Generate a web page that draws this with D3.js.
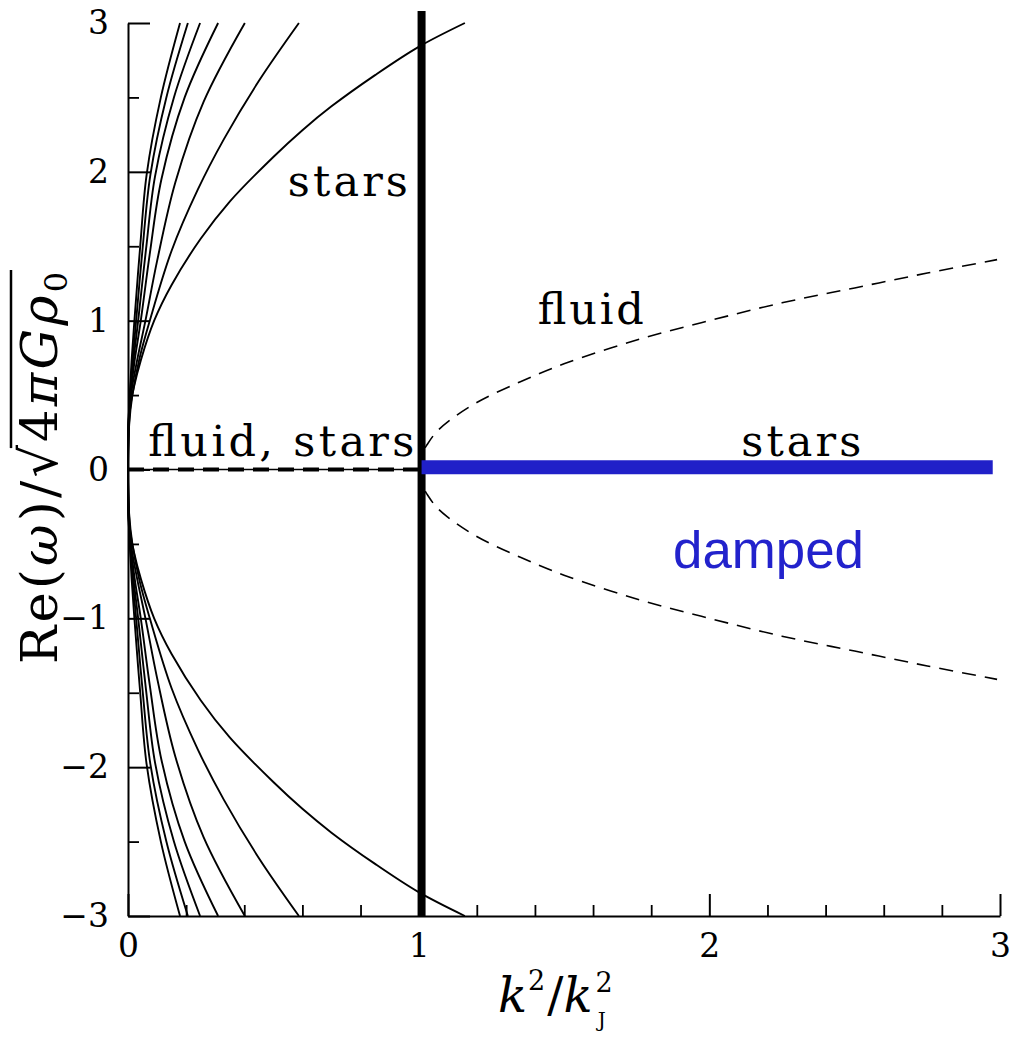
<!DOCTYPE html>
<html>
<head>
<meta charset="utf-8">
<script src="https://cdn.jsdelivr.net/npm/d3@7"></script>
<style>
  body { margin: 0; background: #fff; }
  svg { display: block; }
</style>
</head>
<body>
<svg id="chart" width="1016" height="1041"></svg>
<script>
// Tick values
const xMajorTicks = [0, 1, 2, 3];
const xMinorTicks = [0.2, 0.4, 0.6, 0.8, 1.2, 1.4, 1.6, 1.8, 2.2, 2.4, 2.6, 2.8];
const yMajorTicks = [-3, -2, -1, 0, 1, 2, 3];
const yMinorTicks = [-2.5, -1.5, -0.5, 0.5, 1.5, 2.5];

// Stellar branches, upper half: [k2/kJ2, Re(omega)/sqrt(4 pi G rho0)]
// (the lower half of the figure is the mirror image)
const starsBranch1 = [[0, 0], [0.002, 0.25], [0.008, 0.42], [0.02, 0.55], [0.045, 0.74], [0.09, 1.0], [0.15, 1.24], [0.25, 1.55], [0.35, 1.8], [0.5, 2.1], [0.6, 2.28], [0.7, 2.44], [0.85, 2.65], [1.0, 2.84], [1.159, 3.0]];
const starsBranch2 = [[0, 0], [0.004, 0.3], [0.015, 0.5], [0.04, 0.75], [0.075, 1.0], [0.15, 1.47], [0.24, 1.88], [0.33, 2.22], [0.45, 2.61], [0.588, 3.0]];
const starsBranch3 = [[0, 0], [0.002, 0.3], [0.01, 0.5], [0.03, 0.72], [0.06, 1.0], [0.1, 1.4], [0.163, 1.93], [0.26, 2.47], [0.402, 3.0]];
const starsBranch4 = [[0, 0], [0.002, 0.3], [0.009, 0.5], [0.022, 0.72], [0.044, 1.0], [0.075, 1.45], [0.115, 1.95], [0.195, 2.5], [0.31, 3.0]];
const starsBranch5 = [[0, 0], [0.002, 0.3], [0.008, 0.5], [0.018, 0.72], [0.035, 1.0], [0.062, 1.48], [0.093, 1.97], [0.158, 2.5], [0.248, 3.0]];
const starsBranch6 = [[0, 0], [0.0015, 0.3], [0.007, 0.5], [0.015, 0.72], [0.028, 1.0], [0.05, 1.48], [0.077, 1.98], [0.132, 2.5], [0.206, 3.0]];
const starsBranch7 = [[0, 0], [0.0015, 0.3], [0.006, 0.5], [0.012, 0.72], [0.022, 1.0], [0.042, 1.5], [0.064, 1.98], [0.113, 2.5], [0.179, 3.0]];
const starsBranches = [starsBranch1, starsBranch2, starsBranch3, starsBranch4, starsBranch5, starsBranch6, starsBranch7];

// Fluid branch beyond the Jeans wavenumber (upper half, dashed)
const fluidUpper = [[1.0, 0], [1.01, 0.1], [1.03, 0.17], [1.06, 0.25], [1.1, 0.32], [1.2, 0.45], [1.35, 0.59], [1.5, 0.71], [1.75, 0.87], [2.0, 1.0], [2.25, 1.12], [2.5, 1.22], [2.75, 1.32], [2.99, 1.41]];

// Zero-frequency segment (fluid and stars), Jeans line, damped stellar segment
const zeroSegment = [[0, 0], [1.0, 0]];
const jeansLine = [[1.01, -3.0], [1.01, 3.08]];
const dampedSegment = [[1.01, 0.015], [2.975, 0.015]];

// Text labels
const labels = [
  { x: 0.55, y: 1.84, text: "stars", len: 120 },
  { x: 1.41, y: 0.98, text: "fluid", len: 106 },
  { x: 0.07, y: 0.09, text: "fluid, stars", len: 266 },
  { x: 2.11, y: 0.09, text: "stars", len: 120 }
];

const svg = d3.select("#chart");
const serif = "'DejaVu Serif', serif";

const x = d3.scaleLinear().domain([0, 3]).range([128, 1000]);
const y = d3.scaleLinear().domain([-3, 3]).range([916, 23]);

const smooth = d3.line()
  .x(d => x(d[0]))
  .y(d => y(d[1]))
  .curve(d3.curveCatmullRom.alpha(0.5));

const straight = d3.line()
  .x(d => x(d[0]))
  .y(d => y(d[1]));

const plot = svg.append("g");

// Stellar branches (both signs)
starsBranches.forEach(b => {
  [1, -1].forEach(s => {
    plot.append("path")
      .attr("d", smooth(b.map(p => [p[0], s * p[1]])))
      .attr("fill", "none")
      .attr("stroke", "#000")
      .attr("stroke-width", 1.9);
  });
});

// Fluid branch (dashed), both signs
[1, -1].forEach(s => {
  plot.append("path")
    .attr("d", smooth(fluidUpper.map(p => [p[0], s * p[1]])))
    .attr("fill", "none")
    .attr("stroke", "#000")
    .attr("stroke-width", 1.6)
    .attr("stroke-dasharray", "14,9");
});

// Zero line for k < kJ: thin solid with thick dashes on top
plot.append("path")
  .attr("d", straight(zeroSegment))
  .attr("stroke", "#000")
  .attr("stroke-width", 1.5);
plot.append("path")
  .attr("d", straight(zeroSegment))
  .attr("stroke", "#000")
  .attr("stroke-width", 4)
  .attr("stroke-dasharray", "16,9");

// Jeans line
plot.append("path")
  .attr("d", straight(jeansLine))
  .attr("stroke", "#000")
  .attr("stroke-width", 8);

// Damped stellar segment
plot.append("path")
  .attr("d", straight(dampedSegment))
  .attr("stroke", "#2020c8")
  .attr("stroke-width", 14);

// Axes
function styleAxis(g) {
  g.attr("font-size", null).attr("font-family", null);
  g.select(".domain").attr("stroke-width", 2);
  g.selectAll(".tick line").attr("stroke-width", 2);
  g.selectAll("text")
    .attr("fill", "#000")
    .style("font-family", serif)
    .style("font-size", "33px");
}

svg.append("g")
  .attr("transform", `translate(0,${y(-3)})`)
  .call(d3.axisBottom(x).tickValues(xMinorTicks).tickSize(-11).tickSizeOuter(0).tickFormat(""))
  .call(g => g.select(".domain").remove())
  .call(g => g.selectAll(".tick line").attr("stroke-width", 1.8));

svg.append("g")
  .attr("transform", `translate(0,${y(-3)})`)
  .call(d3.axisBottom(x).tickValues(xMajorTicks).tickSize(-22).tickSizeOuter(0).tickPadding(18).tickFormat(d3.format("d")))
  .call(styleAxis);

svg.append("g")
  .attr("transform", `translate(${x(0)},0)`)
  .call(d3.axisLeft(y).tickValues(yMinorTicks).tickSize(-11).tickSizeOuter(0).tickFormat(""))
  .call(g => g.select(".domain").remove())
  .call(g => g.selectAll(".tick line").attr("stroke-width", 1.8));

svg.append("g")
  .attr("transform", `translate(${x(0)},0)`)
  .call(d3.axisLeft(y).tickValues(yMajorTicks).tickSize(-22).tickSizeOuter(0).tickPadding(19).tickFormat(d3.format("d")))
  .call(styleAxis);

// Labels inside the plot
labels.forEach(l => {
  svg.append("text")
    .attr("x", x(l.x))
    .attr("y", y(l.y))
    .attr("textLength", l.len)
    .attr("lengthAdjust", "spacing")
    .style("font-family", serif)
    .style("font-size", "43px")
    .text(l.text);
});

svg.append("text")
  .attr("x", x(1.875))
  .attr("y", y(-0.66))
  .attr("textLength", 191)
  .attr("lengthAdjust", "spacingAndGlyphs")
  .attr("fill", "#2222cc")
  .style("font-family", "'Liberation Sans', Arial, sans-serif")
  .style("font-size", "51px")
  .text("damped");

// x axis title: k^2 / k_J^2
const xt = svg.append("text")
  .attr("x", 498)
  .attr("y", 1012)
  .style("font-family", serif)
  .style("font-size", "48px");
xt.append("tspan").style("font-style", "italic").text("k");
xt.append("tspan").attr("dx", 1).attr("dy", -22).style("font-size", "27px").text("2");
xt.append("tspan").attr("dx", 2).attr("dy", 22).text("/");
xt.append("tspan").style("font-style", "italic").text("k");
xt.append("tspan").attr("dx", 3).attr("dy", -20).style("font-size", "27px").text("2");
xt.append("tspan").attr("dy", 35).attr("dx", -15).style("font-size", "20px").text("J");

// y axis title: Re(omega)/sqrt(4 pi G rho0), rotated
const yg = svg.append("g").attr("transform", "translate(57,468) rotate(-90)");
const yt = yg.append("text")
  .attr("text-anchor", "middle")
  .attr("textLength", 392)
  .attr("lengthAdjust", "spacing")
  .style("font-family", serif)
  .style("font-size", "51px");
yt.append("tspan").text("Re(");
yt.append("tspan").style("font-style", "italic").text("ω");
yt.append("tspan").text(")/√");
yt.append("tspan").text("4");
yt.append("tspan").style("font-style", "italic").text("πGρ");
yt.append("tspan").attr("dy", 10).style("font-size", "32px").text("0");

// overline of the radical
const full = "Re(ω)/√4πGρ0";
const node = yt.node();
const rootBox = node.getExtentOfChar(full.indexOf("√"));
const endBox = node.getExtentOfChar(full.length - 1);
yg.append("line")
  .attr("x1", rootBox.x + rootBox.width - 3)
  .attr("x2", endBox.x + endBox.width + 2)
  .attr("y1", rootBox.y + 1)
  .attr("y2", rootBox.y + 1)
  .attr("stroke", "#000")
  .attr("stroke-width", 2.5);
</script>
</body>
</html>
